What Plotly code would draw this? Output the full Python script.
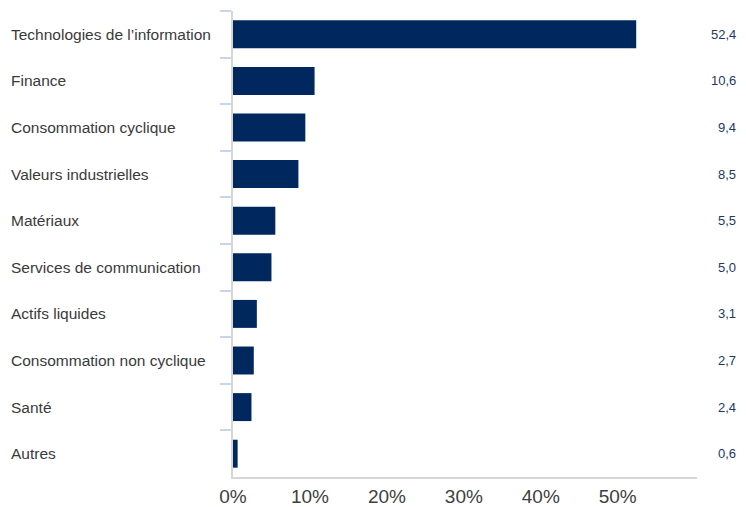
import plotly.graph_objects as go

categories = ["Technologies de l’information", "Finance", "Consommation cyclique",
              "Valeurs industrielles", "Matériaux", "Services de communication",
              "Actifs liquides", "Consommation non cyclique", "Santé", "Autres"]
values = [52.4, 10.6, 9.4, 8.5, 5.5, 5.0, 3.1, 2.7, 2.4, 0.6]
xticks = [0, 10, 20, 30, 40, 50]
xticklabels = ["0%", "10%", "20%", "30%", "40%", "50%"]

BAR = "#00285e"
AXLINE = "#d6d6d6"
TICK = "#c9d5ea"

fig = go.Figure(go.Bar(
    x=values, y=categories, orientation="h",
    marker=dict(color=BAR, line=dict(width=0)),
    hoverinfo="skip",
))

ann = []
for c, v in zip(categories, values):
    ann.append(dict(x=-0.482, xref="paper", y=c, yref="y", text=c,
                    xanchor="left", yanchor="middle", showarrow=False,
                    font=dict(family="Arial, Liberation Sans", size=15.5, color="#3a3a3a")))
    ann.append(dict(x=1.088, xref="paper", y=c, yref="y",
                    text=f"{v:.1f}".replace(".", ","),
                    xanchor="right", yanchor="middle", showarrow=False,
                    font=dict(family="Arial, Liberation Sans", size=13, color="#1f3864")))

fig.update_layout(
    width=746, height=507,
    margin=dict(l=233, r=49, t=11, b=30),
    plot_bgcolor="white", paper_bgcolor="white",
    bargap=0.4, showlegend=False,
    annotations=ann,
    xaxis=dict(range=[0, 60.3], tickvals=xticks, ticktext=xticklabels,
               showgrid=False, zeroline=False, showline=True, linecolor=AXLINE,
               linewidth=1.5, ticks="", ticklen=0, ticklabelstandoff=1,
               automargin=False,
               tickfont=dict(family="Arial, Liberation Sans", size=19, color="#404040")),
    yaxis=dict(autorange="reversed", type="category", showgrid=False,
               showline=True, linecolor=AXLINE, linewidth=2, automargin=False,
               showticklabels=False, ticks="outside", ticklen=11,
               tickcolor=TICK, tickwidth=1.5, tickson="boundaries"),
)

fig.write_html("out.html", config={"displayModeBar": False},
               post_script="document.body.style.margin='0';document.body.style.padding='0';")
